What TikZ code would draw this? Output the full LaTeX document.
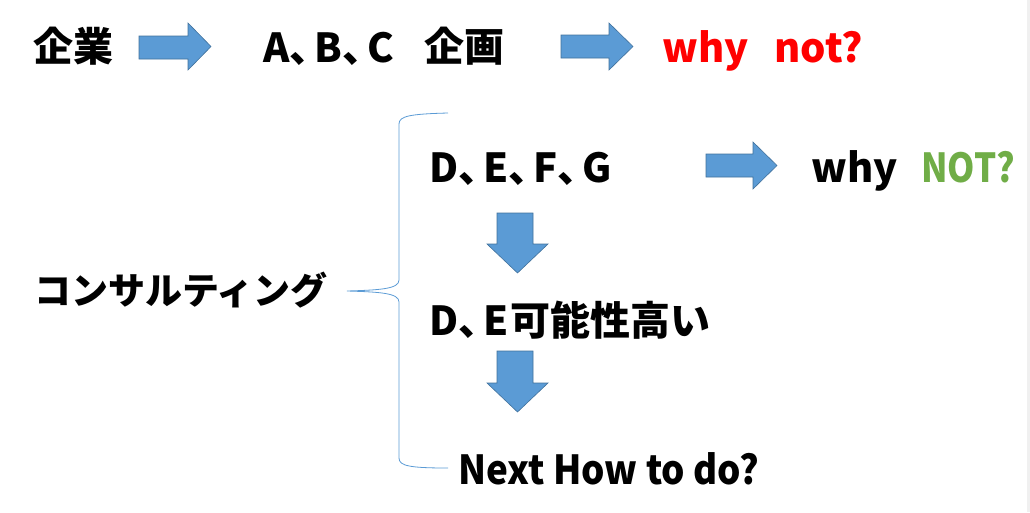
\documentclass[tikz,border=0pt]{standalone}
\usepackage{fontspec}
\setmainfont{Noto Sans CJK JP}
\usetikzlibrary{positioning}
\definecolor{arrowblue}{HTML}{5B9BD5}
\definecolor{arrowedge}{HTML}{41719C}
\definecolor{notgreen}{HTML}{70AD47}
\newcommand\ten{\makebox[25pt][l]{、}}

\begin{document}
\begin{tikzpicture}[x=1pt,y=-1pt,
  blockarrow/.style={draw=arrowedge,line width=0.6pt,fill=arrowblue},
  lbl/.style={inner sep=0pt,anchor=base west,font=\fontsize{40}{44}\selectfont\bfseries}]
\useasboundingbox (0,0) rectangle (1030,512);
\fill[gray!12] (1027,0) rectangle (1030,512);
% first line
\node[lbl] (kigyo) at (33,61) {企業};
\node[lbl] (abc) at (263,62) {A\ten B\ten C};
\node[lbl] (kikaku) at (424,61) {企画};
\node[lbl,text=red] (whynot) at (662,62) {why\hspace{26pt}not?};
\draw[blockarrow] (139,36)--(188,36)--(188,23)--(211,46.5)--(188,70)--(188,59)--(139,59)--cycle;
\draw[blockarrow] (561,35)--(609,35)--(609,23)--(633,46.5)--(609,70)--(609,58)--(561,58)--cycle;
% consulting
\node[lbl,font=\fontsize{37}{40}\selectfont\bfseries] (consult) at (34,304) {コンサルティング};
\draw[arrowblue,line width=0.8pt] (448,113) .. controls (410,114) and (399,116) .. (399,124) -- (399,280)
  .. controls (399,289) and (380,290) .. (347,291) .. controls (380,292) and (399,293) .. (399,302)
  -- (399,458) .. controls (399,466) and (410,468) .. (448,468);
\node[lbl] (defg) at (429,182) {D\ten E\ten F\ten G};
\node[lbl] (why) at (811,182) {why};
\node[lbl,text=notgreen] (NOT) at (921,182) {\scalebox{0.87}[1]{NOT?}};
\draw[blockarrow] (706,154)--(753,154)--(753,142)--(777,165.5)--(753,189)--(753,177)--(706,177)--cycle;
\draw[blockarrow] (497,213)--(533,213)--(533,244)--(548,244)--(517.5,273)--(487,244)--(497,244)--cycle;
\node[lbl] (de) at (429,335) {D\ten E\hspace{2pt}可能性高い};
\draw[blockarrow] (497,351)--(533,351)--(533,383)--(548,383)--(517.5,412)--(487,383)--(497,383)--cycle;
\node[lbl] (next) at (458,484) {\scalebox{0.92}[1]{Next How to do?}};
\end{tikzpicture}
\end{document}
